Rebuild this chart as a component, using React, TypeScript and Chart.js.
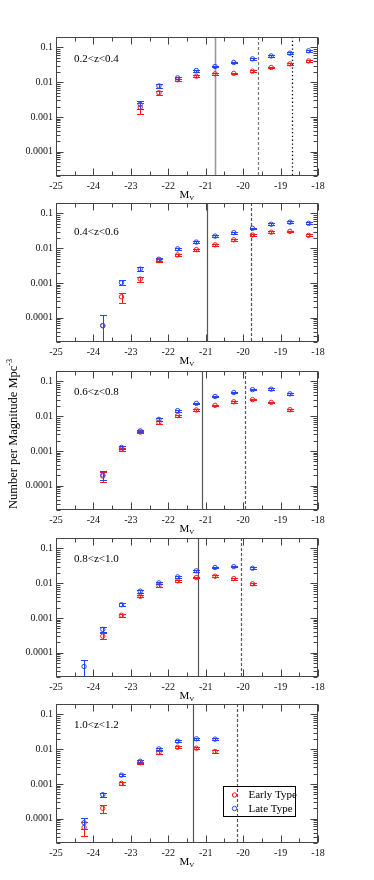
import React, { useEffect, useRef } from 'react';
import { Chart, registerables } from 'chart.js';
Chart.register(...registerables);

// ---------- axes ----------
const X_MIN = -25;
const X_MAX = -18;
const Y_MIN = 0.00002;
const Y_MAX = 0.2;
const xTickValues = [-25, -24, -23, -22, -21, -20, -19, -18];
const xTickLabels = ['-25', '-24', '-23', '-22', '-21', '-20', '-19', '-18'];
const yTickValues = [0.0001, 0.001, 0.01, 0.1];
const yTickLabels = ['0.0001', '0.001', '0.01', '0.1'];

// ---------- panel labels and cut lines ----------
const panelLabels = ['0.2<z<0.4', '0.4<z<0.6', '0.6<z<0.8', '0.8<z<1.0', '1.0<z<1.2'];
const solidCut = [-20.75, -20.96, -21.11, -21.21, -21.33];
const dashedCut = [-19.61, -19.8, -19.95, -20.05, -20.16];
const dottedCut = [-18.7, null, null, null, null];

// ---------- panel 1: 0.2<z<0.4 ----------
const x1 = [-22.75, -22.25, -21.75, -21.25, -20.75, -20.25, -19.75, -19.25, -18.75, -18.25];
const early1 = [0.0019, 0.005, 0.0117, 0.0149, 0.0174, 0.018, 0.0207, 0.0265, 0.0337, 0.041];
const early1Err = [0.00065, 0.0007, 0.001, 0.001, 0.001, 0.001, 0.0012, 0.0015, 0.0017, 0.002];
const late1 = [0.0023, 0.0078, 0.0133, 0.0217, 0.0283, 0.037, 0.047, 0.057, 0.0685, 0.08];
const late1Err = [0.0006, 0.0009, 0.0012, 0.0014, 0.0017, 0.002, 0.0024, 0.003, 0.0035, 0.004];

// ---------- panel 2: 0.4<z<0.6 ----------
const x2 = [-23.75, -23.25, -22.75, -22.25, -21.75, -21.25, -20.75, -20.25, -19.75, -19.25, -18.75, -18.25];
const early2 = [0.000059, 0.0004, 0.0013, 0.0044, 0.0064, 0.0091, 0.0125, 0.0175, 0.024, 0.029, 0.0305, 0.0234];
const early2Err = [0.00006, 0.00013, 0.0002, 0.0005, 0.0006, 0.0007, 0.0009, 0.0012, 0.0015, 0.0017, 0.0018, 0.0016];
const late2 = [0.000059, 0.00102, 0.0025, 0.0048, 0.0096, 0.015, 0.0224, 0.028, 0.0374, 0.049, 0.056, 0.052];
const late2Err = [0.00006, 0.00017, 0.0003, 0.0005, 0.0008, 0.001, 0.0013, 0.0016, 0.002, 0.0025, 0.003, 0.003];

// ---------- panel 3: 0.6<z<0.8 ----------
const x3 = [-23.75, -23.25, -22.75, -22.25, -21.75, -21.25, -20.75, -20.25, -19.75, -19.25, -18.75];
const early3 = [0.00019, 0.00112, 0.0035, 0.0066, 0.0104, 0.0151, 0.0205, 0.026, 0.03, 0.025, 0.0154];
const early3Err = [0.00006, 0.00013, 0.0003, 0.0005, 0.0007, 0.0009, 0.0012, 0.0014, 0.0016, 0.0015, 0.0012];
const late3 = [0.000204, 0.00126, 0.0038, 0.0081, 0.0145, 0.0234, 0.037, 0.048, 0.058, 0.06, 0.044];
const late3Err = [0.00006, 0.00015, 0.0003, 0.0006, 0.0009, 0.0013, 0.002, 0.0025, 0.003, 0.003, 0.0028];

// ---------- panel 4: 0.8<z<1.0 ----------
const x4Early = [-23.75, -23.25, -22.75, -22.25, -21.75, -21.25, -20.75, -20.25, -19.75];
const early4 = [0.0003, 0.0012, 0.0042, 0.0086, 0.0117, 0.0146, 0.0159, 0.0136, 0.0096];
const early4Err = [0.00006, 0.00012, 0.0003, 0.0006, 0.0008, 0.0009, 0.001, 0.0009, 0.0008];
const x4Late = [-24.25, -23.75, -23.25, -22.75, -22.25, -21.75, -21.25, -20.75, -20.25, -19.75];
const late4 = [0.00004, 0.00047, 0.0024, 0.0059, 0.0102, 0.0152, 0.0227, 0.0283, 0.03, 0.027];
const late4Err = [0.00002, 0.00007, 0.00024, 0.0005, 0.0008, 0.001, 0.0013, 0.0015, 0.0016, 0.0015];

// ---------- panel 5: 1.0<z<1.2 ----------
const x5 = [-24.25, -23.75, -23.25, -22.75, -22.25, -21.75, -21.25, -20.75];
const early5 = [0.000056, 0.0002, 0.00104, 0.0041, 0.008, 0.0114, 0.0107, 0.0086];
const early5Err = [0.000024, 0.00005, 0.0001, 0.0003, 0.0006, 0.0008, 0.0008, 0.0007];
const late5 = [0.000077, 0.00049, 0.0018, 0.0045, 0.0102, 0.017, 0.0199, 0.0195];
const late5Err = [0.000028, 0.00007, 0.00015, 0.0004, 0.0008, 0.0012, 0.0014, 0.0014];

const legendLabels = ['Early Type', 'Late Type'];

// ---------- styles ----------
const RED = '#ff1a1a';
const BLUE = '#2244ff';
const SERIF = "'Liberation Serif', 'DejaVu Serif', serif";

type Panel = {
  label: string;
  labelDy: number;
  top: number;
  earlyX: number[];
  early: number[];
  earlyErr: number[];
  lateX: number[];
  late: number[];
  lateErr: number[];
  solid: number;
  dashed: number;
  dotted: number | null;
  legend: boolean;
  solidColor: string;
  solidWidth: number;
  dashColor: string;
};

const panels: Panel[] = [
  { label: panelLabels[0], labelDy: 22, top: 37, earlyX: x1, early: early1, earlyErr: early1Err, lateX: x1, late: late1, lateErr: late1Err, solid: solidCut[0], dashed: dashedCut[0], dotted: dottedCut[0], legend: false, solidColor: '#999', solidWidth: 1.6, dashColor: '#777' },
  { label: panelLabels[1], labelDy: 29, top: 203, earlyX: x2, early: early2, earlyErr: early2Err, lateX: x2, late: late2, lateErr: late2Err, solid: solidCut[1], dashed: dashedCut[1], dotted: dottedCut[1], legend: false, solidColor: '#555', solidWidth: 1.2, dashColor: '#555' },
  { label: panelLabels[2], labelDy: 21, top: 371, earlyX: x3, early: early3, earlyErr: early3Err, lateX: x3, late: late3, lateErr: late3Err, solid: solidCut[2], dashed: dashedCut[2], dotted: dottedCut[2], legend: false, solidColor: '#555', solidWidth: 1.2, dashColor: '#555' },
  { label: panelLabels[3], labelDy: 21, top: 538, earlyX: x4Early, early: early4, earlyErr: early4Err, lateX: x4Late, late: late4, lateErr: late4Err, solid: solidCut[3], dashed: dashedCut[3], dotted: dottedCut[3], legend: false, solidColor: '#555', solidWidth: 1.2, dashColor: '#555' },
  { label: panelLabels[4], labelDy: 21, top: 704, earlyX: x5, early: early5, earlyErr: early5Err, lateX: x5, late: late5, lateErr: late5Err, solid: solidCut[4], dashed: dashedCut[4], dotted: dottedCut[4], legend: true, solidColor: '#555', solidWidth: 1.2, dashColor: '#555' },
];

const PAD_TOP = 10;
const PLOT_H = 139;
const LEFT = 56;
const RIGHT_PAD = 56;
const CANVAS_W = 374;
const CANVAS_H = 190;

function drawErrors(ctx: CanvasRenderingContext2D, chart: any, xs: number[], ys: number[], es: number[], color: string) {
  const sx = chart.scales.x;
  const sy = chart.scales.y;
  const area = chart.chartArea;
  ctx.save();
  ctx.strokeStyle = color;
  ctx.lineWidth = 1;
  for (let i = 0; i < xs.length; i++) {
    const px = Math.round(sx.getPixelForValue(xs[i])) + 0.5;
    const hi = ys[i] + es[i];
    const lo = ys[i] - es[i];
    const pyHi = Math.round(sy.getPixelForValue(hi)) + 0.5;
    const hasLo = lo > Y_MIN * 1.001;
    const pyLo = hasLo ? Math.round(sy.getPixelForValue(lo)) + 0.5 : area.bottom;
    ctx.beginPath();
    ctx.moveTo(px, pyHi);
    ctx.lineTo(px, pyLo);
    ctx.moveTo(px - 3.5, pyHi);
    ctx.lineTo(px + 3.5, pyHi);
    if (hasLo) {
      ctx.moveTo(px - 3.5, pyLo);
      ctx.lineTo(px + 3.5, pyLo);
    }
    ctx.stroke();
  }
  ctx.restore();
}

function PanelChart({ p }: { p: Panel }) {
  const ref = useRef<HTMLCanvasElement | null>(null);
  useEffect(() => {
    if (!ref.current) return;
    const plugin = {
      id: 'decor',
      beforeDatasetsDraw(chart: any) {
        const ctx = chart.ctx as CanvasRenderingContext2D;
        const a = chart.chartArea;
        const sx = chart.scales.x;
        ctx.save();
        const vline = (x: number, color: string, width: number, dash: number[]) => {
          const px = Math.round(sx.getPixelForValue(x)) + 0.5;
          ctx.beginPath();
          ctx.strokeStyle = color;
          ctx.lineWidth = width;
          ctx.setLineDash(dash);
          ctx.moveTo(px, a.top);
          ctx.lineTo(px, a.bottom);
          ctx.stroke();
        };
        vline(p.solid, p.solidColor, p.solidWidth, []);
        vline(p.dashed, p.dashColor, 1.2, [3, 2]);
        if (p.dotted !== null) vline(p.dotted, '#000', 1.3, [1.3, 2.5]);
        ctx.setLineDash([]);
        ctx.restore();
        drawErrors(ctx, chart, p.earlyX, p.early, p.earlyErr, RED);
        drawErrors(ctx, chart, p.lateX, p.late, p.lateErr, BLUE);
      },
      afterDraw(chart: any) {
        const ctx = chart.ctx as CanvasRenderingContext2D;
        const a = chart.chartArea;
        const sx = chart.scales.x;
        const sy = chart.scales.y;
        ctx.save();
        ctx.strokeStyle = '#444';
        ctx.lineWidth = 1;
        const L = Math.round(a.left) + 0.5;
        const R = Math.round(a.right) - 0.5;
        const T = Math.round(a.top) + 0.5;
        const B = Math.round(a.bottom) - 0.5;
        ctx.strokeRect(L, T, R - L, B - T);
        ctx.beginPath();
        for (let v = X_MIN; v <= X_MAX + 0.001; v += 0.5) {
          const major = Math.abs(v - Math.round(v)) < 0.01;
          const len = major ? 7 : 4;
          const px = Math.round(sx.getPixelForValue(v)) + 0.5;
          ctx.moveTo(px, B);
          ctx.lineTo(px, B - len);
          ctx.moveTo(px, T);
          ctx.lineTo(px, T + len);
        }
        for (let e = -5; e <= -1; e++) {
          for (let m = 1; m <= 9; m++) {
            const v = m * Math.pow(10, e);
            if (v < Y_MIN * 0.999 || v > Y_MAX * 1.001) continue;
            const len = m === 1 ? 7 : 4;
            const py = Math.round(sy.getPixelForValue(v)) + 0.5;
            ctx.moveTo(L, py);
            ctx.lineTo(L + len, py);
            ctx.moveTo(R, py);
            ctx.lineTo(R - len, py);
          }
        }
        ctx.stroke();
        ctx.fillStyle = '#000';
        ctx.font = `11px ${SERIF}`;
        ctx.textBaseline = 'middle';
        ctx.textAlign = 'left';
        ctx.fillText(p.label, a.left + 18, a.top + p.labelDy);
        const cx = (a.left + a.right) / 2;
        const ty = a.bottom + 19;
        ctx.font = `11px ${SERIF}`;
        const mw = ctx.measureText('M').width;
        ctx.font = `7px ${SERIF}`;
        const vw = ctx.measureText('V').width;
        const start = cx - (mw + vw) / 2;
        ctx.font = `11px ${SERIF}`;
        ctx.fillText('M', start, ty);
        ctx.font = `7px ${SERIF}`;
        ctx.fillText('V', start + mw, ty + 3);
        if (p.legend) {
          const bx = Math.round(a.left + 167) + 0.5;
          const by = Math.round(a.top + 82) + 0.5;
          ctx.strokeStyle = '#000';
          ctx.lineWidth = 1;
          ctx.strokeRect(bx, by, 72, 30);
          const cols = [RED, BLUE];
          for (let i = 0; i < 2; i++) {
            const ry = by + 8.5 + i * 13.5;
            ctx.beginPath();
            ctx.strokeStyle = cols[i];
            ctx.arc(bx + 11, ry, 2.2, 0, Math.PI * 2);
            ctx.stroke();
            ctx.fillStyle = '#000';
            ctx.font = `11px ${SERIF}`;
            ctx.textAlign = 'left';
            ctx.textBaseline = 'middle';
            ctx.fillText(legendLabels[i], bx + 25, ry + 0.5);
          }
        }
        ctx.restore();
      },
    };

    // Chart.js paints dataset 0 last (on top): late type sits over early type
    const chart = new Chart(ref.current, {
      type: 'scatter',
      data: {
        datasets: [
          {
            label: legendLabels[1],
            data: p.lateX.map((x, i) => ({ x, y: p.late[i] })),
            borderColor: BLUE,
            backgroundColor: 'rgba(0,0,0,0)',
            pointRadius: 2.2,
            pointBorderWidth: 1,
            showLine: false,
          },
          {
            label: legendLabels[0],
            data: p.earlyX.map((x, i) => ({ x, y: p.early[i] })),
            borderColor: RED,
            backgroundColor: 'rgba(0,0,0,0)',
            pointRadius: 2.2,
            pointBorderWidth: 1,
            showLine: false,
          },
        ],
      },
      options: {
        responsive: false,
        animation: false,
        devicePixelRatio: 1,
        layout: { padding: { top: PAD_TOP, left: 0, right: RIGHT_PAD, bottom: 0 } },
        plugins: { legend: { display: false }, tooltip: { enabled: false } },
        scales: {
          x: {
            type: 'linear',
            min: X_MIN,
            max: X_MAX,
            grid: { display: false, drawTicks: false },
            border: { display: false },
            afterBuildTicks: (s: any) => {
              s.ticks = xTickValues.map((v) => ({ value: v }));
            },
            afterFit: (s: any) => {
              s.height = CANVAS_H - PAD_TOP - PLOT_H;
            },
            ticks: {
              padding: 4,
              maxRotation: 0,
              autoSkip: false,
              color: '#111',
              font: { family: SERIF, size: 10 },
              callback: (_v: any, i: number) => xTickLabels[i],
            },
          },
          y: {
            type: 'logarithmic',
            min: Y_MIN,
            max: Y_MAX,
            grid: { display: false, drawTicks: false },
            border: { display: false },
            afterBuildTicks: (s: any) => {
              s.ticks = yTickValues.map((v) => ({ value: v }));
            },
            afterFit: (s: any) => {
              s.width = LEFT;
            },
            ticks: {
              padding: 3,
              autoSkip: false,
              color: '#111',
              font: { family: SERIF, size: 10 },
              callback: (_v: any, i: number) => yTickLabels[i],
            },
          },
        },
      } as any,
      plugins: [plugin],
    });
    return () => chart.destroy();
  }, [p]);

  return (
    <canvas
      ref={ref}
      width={CANVAS_W}
      height={CANVAS_H}
      style={{ position: 'absolute', left: 0, top: p.top - PAD_TOP, width: CANVAS_W, height: CANVAS_H }}
    />
  );
}

export default function App() {
  return (
    <div style={{ position: 'absolute', left: 0, top: 0, width: 374, height: 880, background: '#fff' }}>
      {panels.map((p, i) => (
        <PanelChart key={i} p={p} />
      ))}
      <div
        style={{
          position: 'absolute',
          left: 13 - 100,
          top: 434 - 8,
          width: 200,
          height: 16,
          lineHeight: '16px',
          textAlign: 'center',
          transform: 'rotate(-90deg)',
          fontFamily: SERIF,
          fontSize: 12.5,
          color: '#000',
          whiteSpace: 'nowrap',
        }}
      >
        Number per Magnitude Mpc<sup style={{ fontSize: 8, verticalAlign: 'super', lineHeight: 0 }}>-3</sup>
      </div>
    </div>
  );
}
